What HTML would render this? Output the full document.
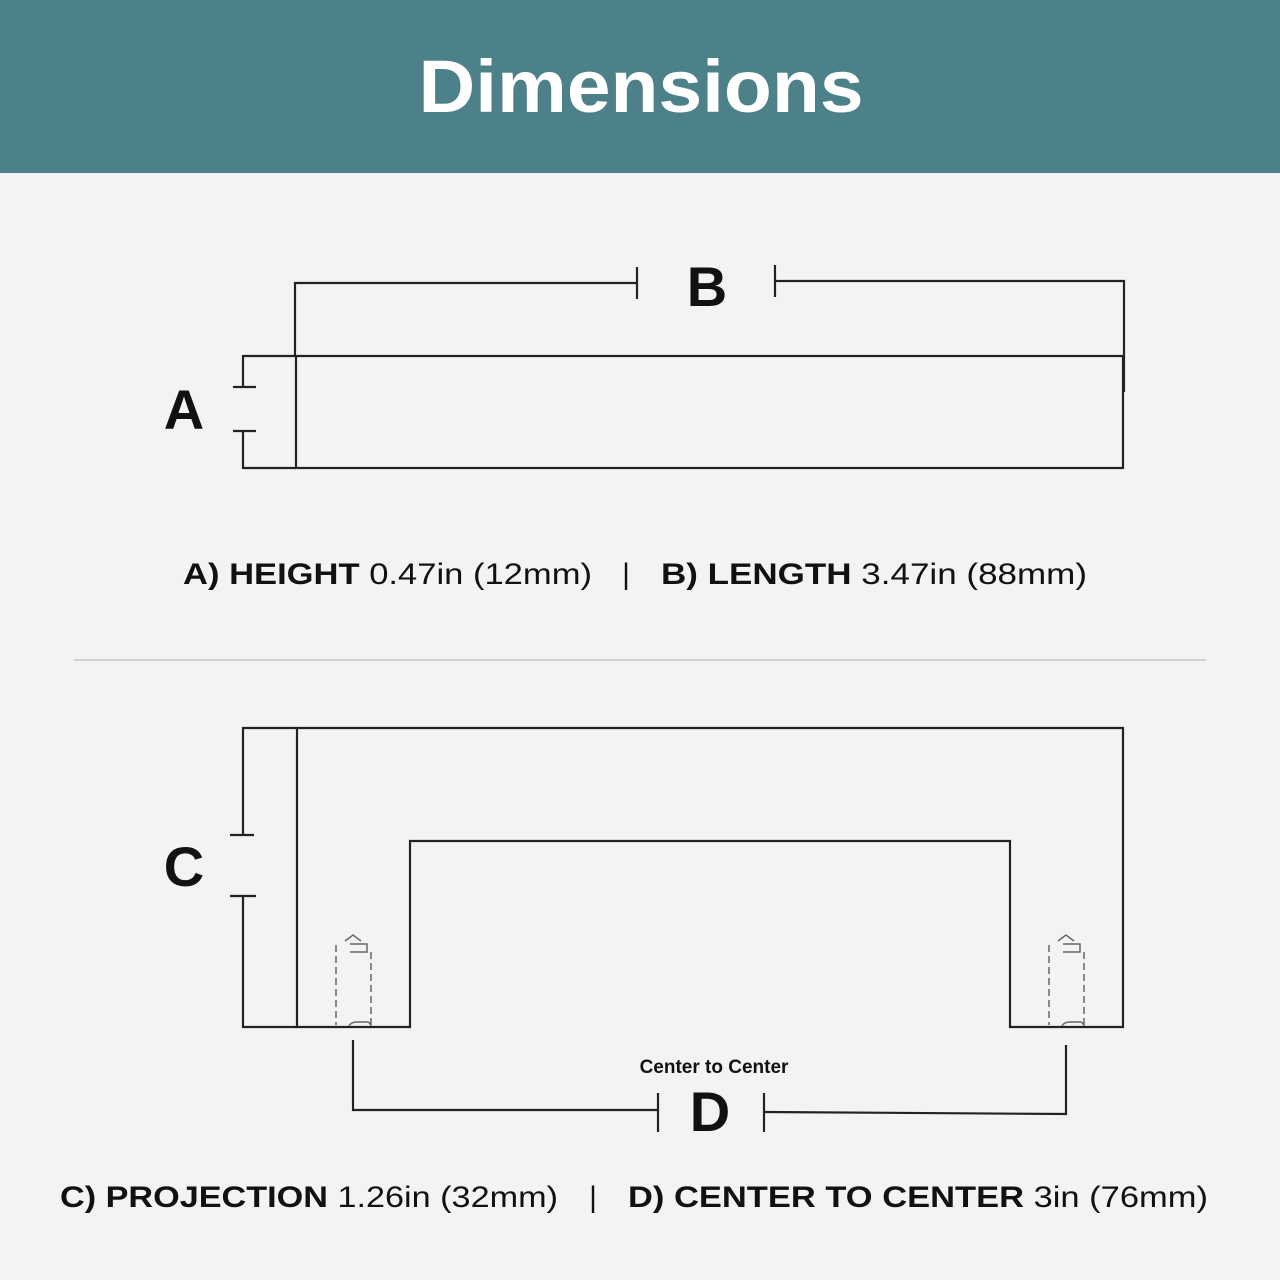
<!DOCTYPE html>
<html><head><meta charset="utf-8"><style>
html,body{margin:0;padding:0;background:#f3f3f3;}
svg{display:block;font-family:"Liberation Sans",sans-serif;}
</style></head><body>
<svg width="1280" height="1280" viewBox="0 0 1280 1280" xmlns="http://www.w3.org/2000/svg">
<rect x="0" y="0" width="1280" height="1280" fill="#f3f3f3"/>
<rect x="0" y="0" width="1280" height="173" fill="#4d8189"/>
<text x="641" y="112" font-size="74" font-weight="bold" fill="#fff" text-anchor="middle" textLength="445" lengthAdjust="spacingAndGlyphs">Dimensions</text>

<g stroke="#222" stroke-width="2.2" fill="none">
<!-- B bracket -->
<polyline points="295,355 295,283 637,283"/>
<line x1="637" y1="267" x2="637" y2="299"/>
<line x1="775" y1="265" x2="775" y2="297"/>
<polyline points="775,281 1124,281 1124,392"/>
<!-- rect -->
<rect x="296" y="356" width="827" height="112"/>
<!-- A bracket -->
<polyline points="296,356 243,356 243,387"/>
<line x1="233" y1="387" x2="256" y2="387"/>
<line x1="233" y1="431" x2="256" y2="431"/>
<polyline points="243,431 243,468 296,468"/>

<!-- bottom shape -->
<polygon points="297,728 1123,728 1123,1027 1010,1027 1010,841 410,841 410,1027 297,1027"/>
<!-- C bracket -->
<polyline points="297,728 243,728 243,835"/>
<line x1="230" y1="835" x2="254" y2="835"/>
<line x1="230" y1="896" x2="256" y2="896"/>
<polyline points="243,896 243,1027 297,1027"/>
<!-- D bracket -->
<polyline points="353,1040 353,1110 658,1110"/>
<line x1="658" y1="1093" x2="658" y2="1132"/>
<line x1="764" y1="1093" x2="764" y2="1132"/>
<polyline points="764,1112 1066,1114 1066,1045"/>
</g>
<line x1="74" y1="660" x2="1206" y2="660" stroke="#c8c8c8" stroke-width="1.5"/>

<!-- screws -->
<g stroke="#666" stroke-width="1.5" fill="none" stroke-dasharray="7,4">
<line x1="336" y1="945" x2="336" y2="1025"/>
<line x1="371" y1="952" x2="371" y2="1025"/>
<line x1="1049" y1="945" x2="1049" y2="1025"/>
<line x1="1084" y1="952" x2="1084" y2="1025"/>
</g>
<g stroke="#666" stroke-width="1.5" fill="none">
<polyline points="345,941 353,935 361,941"/>
<polyline points="350,944 367,944 367,952 350,952"/>
<polyline points="1058,941 1066,935 1074,941"/>
<polyline points="1063,944 1080,944 1080,952 1063,952"/>
<path d="M349,1026 q2,-4 8,-4 h10 q3,0 4,4"/>
<path d="M1062,1026 q2,-4 8,-4 h10 q3,0 4,4"/>
</g>

<g fill="#111" font-weight="bold" text-anchor="middle">
<text x="184" y="429" font-size="56">A</text>
<text x="707" y="306" font-size="56">B</text>
<text x="184" y="886" font-size="56">C</text>
<text x="710" y="1131" font-size="56">D</text>
<text x="714" y="1073" font-size="19">Center to Center</text>
</g>

<g font-size="30" fill="#111">
<text x="183" y="584" textLength="409" lengthAdjust="spacingAndGlyphs"><tspan font-weight="bold">A) HEIGHT</tspan> 0.47in (12mm)</text>
<text x="626" y="584" text-anchor="middle">|</text>
<text x="661" y="584" textLength="426" lengthAdjust="spacingAndGlyphs"><tspan font-weight="bold">B) LENGTH</tspan> 3.47in (88mm)</text>
<text x="60" y="1207" textLength="498" lengthAdjust="spacingAndGlyphs"><tspan font-weight="bold">C) PROJECTION</tspan> 1.26in (32mm)</text>
<text x="593" y="1207" text-anchor="middle">|</text>
<text x="628" y="1207" textLength="580" lengthAdjust="spacingAndGlyphs"><tspan font-weight="bold">D) CENTER TO CENTER</tspan> 3in (76mm)</text>
</g>
</svg>
</body></html>
